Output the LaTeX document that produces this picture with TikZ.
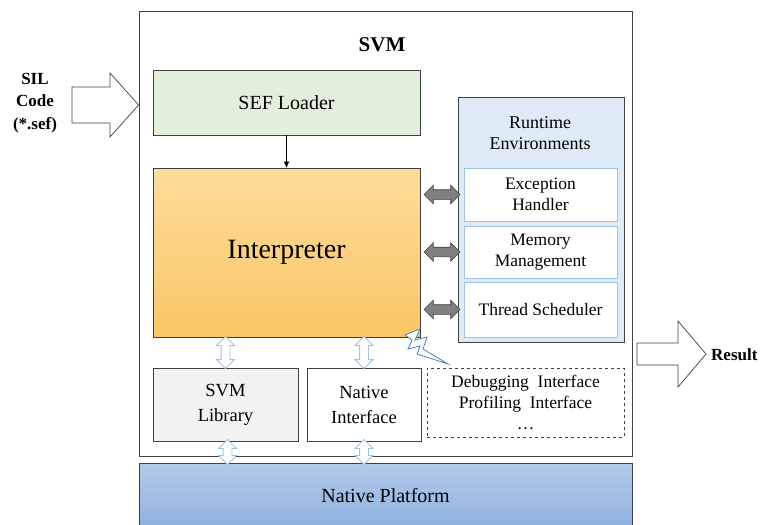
\documentclass[tikz,border=0pt]{standalone}
\usepackage{fontspec}
\setmainfont{Liberation Serif}
\usetikzlibrary{shapes.arrows,arrows.meta,calc}

\definecolor{sefgreen}{RGB}{226,239,218}
\definecolor{rtblue}{RGB}{222,235,247}
\definecolor{inborder}{RGB}{157,195,230}
\definecolor{libgray}{RGB}{242,242,242}
\definecolor{orangetop}{RGB}{253,220,156}
\definecolor{orangebot}{RGB}{250,198,100}
\definecolor{platop}{RGB}{180,203,235}
\definecolor{platbot}{RGB}{141,177,224}
\definecolor{linkgray}{RGB}{128,128,128}
\definecolor{darkline}{RGB}{64,64,64}
\definecolor{boltblue}{RGB}{70,130,200}

\tikzset{
  blk/.style={rectangle, draw=darkline, line width=0.8pt, inner sep=0pt, align=center,
    font=\fontsize{17}{20}\selectfont},
  inner/.style={rectangle, draw=inborder, line width=0.9pt, fill=white, inner sep=0pt, align=center,
    font=\fontsize{17.5}{20.5}\selectfont},
  grayarrow/.style={double arrow, draw=darkline, fill=linkgray, line width=0.6pt,
    minimum height=36pt, inner xsep=0pt, inner ysep=4.5pt, double arrow head extend=4.5pt},
  hollowarrow/.style={double arrow, draw=inborder, fill=white, line width=0.9pt,
    inner xsep=0pt, inner ysep=4pt, double arrow head extend=4.5pt, rotate=90},
  bigarrow/.style={draw=darkline, fill=white, line width=0.7pt, line join=miter},
  boldtext/.style={font=\bfseries\fontsize{17}{22.5}\selectfont, align=center, inner sep=0pt},
}

\begin{document}
\begin{tikzpicture}[x=1pt,y=-1pt]
\useasboundingbox (0,0) rectangle (767,524);

% outer SVM frame and native platform
\node[blk, minimum width=493pt, minimum height=445pt] (svm) at (385.5,233.5) {};
\node[font=\bfseries\fontsize{21}{24}\selectfont, inner sep=0pt] (svmtitle) at (382,45) {SVM};
\node[blk, minimum width=493pt, minimum height=65pt,
      top color=platop, bottom color=platbot,
      font=\fontsize{20}{22}\selectfont] (plat) at (385.5,495.5) {Native Platform};

% loader and interpreter
\node[blk, fill=sefgreen, minimum width=267pt, minimum height=65pt,
      font=\fontsize{20}{22}\selectfont] (sef) at (286.5,102.5) {SEF Loader};
\node[blk, minimum width=267pt, minimum height=169pt,
      top color=orangetop, bottom color=orangebot,
      font=\fontsize{28}{30}\selectfont] (interp) at (286.5,252.5) {Interpreter};
\draw[line width=0.7pt, black, -{Triangle[length=6pt,width=5pt]}] (sef.south) -- (interp.north);

% runtime environments
\node[blk, fill=rtblue, minimum width=166pt, minimum height=245pt] (rt) at (541,219.5) {};
\node[font=\fontsize{18}{21}\selectfont, align=center, inner sep=0pt] (rttitle) at (540,133) {Runtime\\Environments};
\node[inner, minimum width=153pt, minimum height=53pt] (exc) at (540.5,194.5) {Exception\\Handler};
\node[inner, minimum width=153pt, minimum height=52pt] (mem) at (540.5,252) {Memory\\Management};
\node[inner, minimum width=153pt, minimum height=55pt] (thr) at (540.5,309.5) {Thread Scheduler};

\foreach \m in {exc,mem,thr}{
  \node[grayarrow] (link-\m) at ($(interp.east |- \m.west)!0.5!(rt.west |- \m.west)+(3,0)$) {};
}

% lower components
\node[blk, fill=libgray, minimum width=145pt, minimum height=73pt,
      font=\fontsize{18.5}{25}\selectfont] (lib) at (225.5,404.5) {SVM\\Library};
\node[blk, fill=white, minimum width=114pt, minimum height=73pt,
      font=\fontsize{18.5}{25}\selectfont] (nat) at (364,404.5) {Native\\Interface};
\node[blk, dashed, fill=white, minimum width=197pt, minimum height=69pt,
      font=\fontsize{17.5}{21}\selectfont] (dbg) at (525.5,402.5)
      {Debugging\ \ Interface\\Profiling\ \ Interface\\\ldots};

\node[hollowarrow, minimum height=32pt] (a1) at ($(lib.north)!0.5!(lib.north |- interp.south)$) {};
\node[hollowarrow, minimum height=32pt] (a2) at ($(nat.north)!0.5!(nat.north |- interp.south)$) {};
\node[hollowarrow, minimum height=25pt] (a3) at ($(lib.south)!0.5!(lib.south |- plat.north)+(2,0)$) {};
\node[hollowarrow, minimum height=25pt] (a4) at ($(nat.south)!0.5!(nat.south |- plat.north)$) {};

% lightning bolt from interpreter to debugging interfaces
\draw[draw=boltblue, fill=white, line width=0.8pt, line join=miter]
  (405,335) -- (420,329) -- (415,340) -- (427,337) -- (423,349) -- (448,364)
  -- (417,354) -- (420,346) -- (408,349) -- (412,340) -- cycle;

% input and output arrows
\coordinate (intip) at (svm.west |- 0,105);
\draw[bigarrow] (72,87) -- (110,87) -- (110,73) -- (intip) -- (110,137) -- (110,123) -- (72,123) -- cycle;
\node[boldtext] (sil) at (35,103) {SIL\\Code\\(*.sef)};

\coordinate (outtip) at (706,354);
\draw[bigarrow] (637,343) -- (678,343) -- (678,321) -- (outtip) -- (678,387) -- (678,365) -- (637,365) -- cycle;
\node[boldtext, anchor=west] (result) at (711,355) {Result};
\end{tikzpicture}
\end{document}
